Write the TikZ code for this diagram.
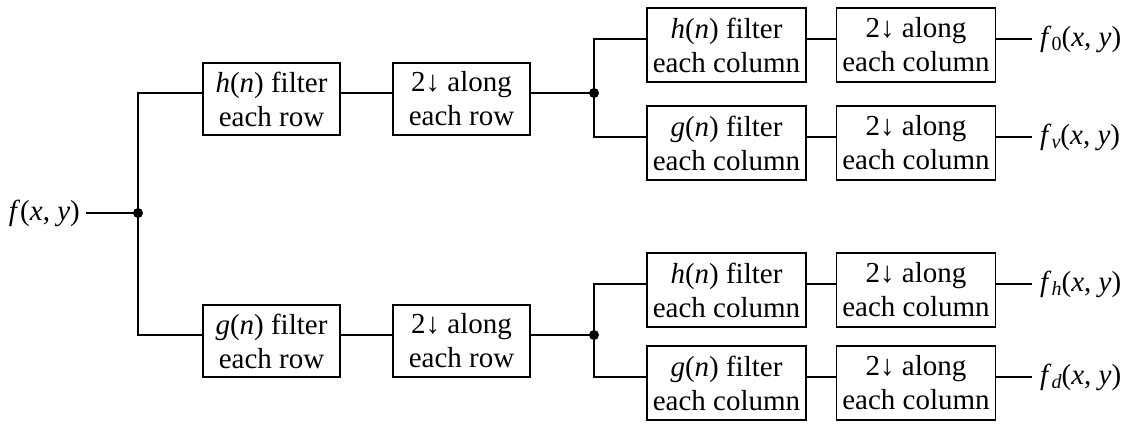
\documentclass[tikz,border=0pt]{standalone}
\usepackage{fontspec}
\setmainfont{Liberation Serif}
\newfontfamily\blkfont{Liberation Serif}
\begin{document}
\begin{tikzpicture}[x=1pt,y=-1pt,
  blk/.style={draw,line width=1.8pt,align=center,inner sep=0pt,font=\blkfont\fontsize{29}{34}\selectfont},
  rowbox/.style={blk,minimum width=137pt,minimum height=72pt},
  colbox/.style={blk,minimum width=159pt,minimum height=74pt},
  wire/.style={line width=2.8pt},
  lbl/.style={inner sep=0pt,font=\blkfont\fontsize{29}{34}\selectfont},
  dot/.style={circle,fill=black,inner sep=0pt,minimum size=10pt}]
\useasboundingbox (0,0) rectangle (1129,423);
\newcommand{\sbs}[1]{\raisebox{-0.35ex}{\fontsize{20}{20}\selectfont #1}}
% input
\node[lbl,anchor=east] (fin) at (80,213) {\textit{f}(\textit{x}, \textit{y})};
\node[dot] (d0) at (138,213) {};
% first stage
\node[rowbox] (hrow) at (271.5,99) {\textit{h}(\textit{n}) filter\\each row};
\node[rowbox] (drow1) at (461.5,99) {2↓ along\\each row};
\node[rowbox] (grow) at (271.5,341) {\textit{g}(\textit{n}) filter\\each row};
\node[rowbox] (drow2) at (461.5,341) {2↓ along\\each row};
\node[dot] (d1) at (594,93) {};
\node[dot] (d2) at (594,335) {};
% second stage
\node[colbox] (hc1) at (726.5,45) {\textit{h}(\textit{n}) filter\\each column};
\node[colbox] (dc1) at (916,45) {2↓ along\\each column};
\node[colbox] (gc1) at (726.5,143) {\textit{g}(\textit{n}) filter\\each column};
\node[colbox] (dc2) at (916,143) {2↓ along\\each column};
\node[colbox] (hc2) at (726.5,290) {\textit{h}(\textit{n}) filter\\each column};
\node[colbox] (dc3) at (916,290) {2↓ along\\each column};
\node[colbox] (gc2) at (726.5,383) {\textit{g}(\textit{n}) filter\\each column};
\node[colbox] (dc4) at (916,383) {2↓ along\\each column};
% outputs
\node[lbl,anchor=west] (o1) at (1040,39) {\textit{f}\sbs{0}(\textit{x}, \textit{y})};
\node[lbl,anchor=west] (o2) at (1040,137) {\textit{f}\sbs{\textit{v}}(\textit{x}, \textit{y})};
\node[lbl,anchor=west] (o3) at (1040,284) {\textit{f}\sbs{\textit{h}}(\textit{x}, \textit{y})};
\node[lbl,anchor=west] (o4) at (1040,377) {\textit{f}\sbs{\textit{d}}(\textit{x}, \textit{y})};
% wires (attach slightly above the box centres, as in the reference)
\tikzset{up/.style={yshift=6pt}}
\draw[wire] ([xshift=6pt]fin.east) -- (d0.center);
\draw[wire] (d0.center) |- ([up]hrow.west);
\draw[wire] (d0.center) |- ([up]grow.west);
\draw[wire] ([up]hrow.east) -- ([up]drow1.west);
\draw[wire] ([up]grow.east) -- ([up]drow2.west);
\draw[wire] ([up]drow1.east) -- (d1.center);
\draw[wire] ([up]drow2.east) -- (d2.center);
\draw[wire] (d1.center) |- ([up]hc1.west);
\draw[wire] (d1.center) |- ([up]gc1.west);
\draw[wire] (d2.center) |- ([up]hc2.west);
\draw[wire] (d2.center) |- ([up]gc2.west);
\draw[wire] ([up]hc1.east) -- ([up]dc1.west);
\draw[wire] ([up]gc1.east) -- ([up]dc2.west);
\draw[wire] ([up]hc2.east) -- ([up]dc3.west);
\draw[wire] ([up]gc2.east) -- ([up]dc4.west);
\draw[wire] ([up]dc1.east) -- ([xshift=-8pt]o1.west);
\draw[wire] ([up]dc2.east) -- ([xshift=-8pt]o2.west);
\draw[wire] ([up]dc3.east) -- ([xshift=-8pt]o3.west);
\draw[wire] ([up]dc4.east) -- ([xshift=-8pt]o4.west);
\end{tikzpicture}
\end{document}
